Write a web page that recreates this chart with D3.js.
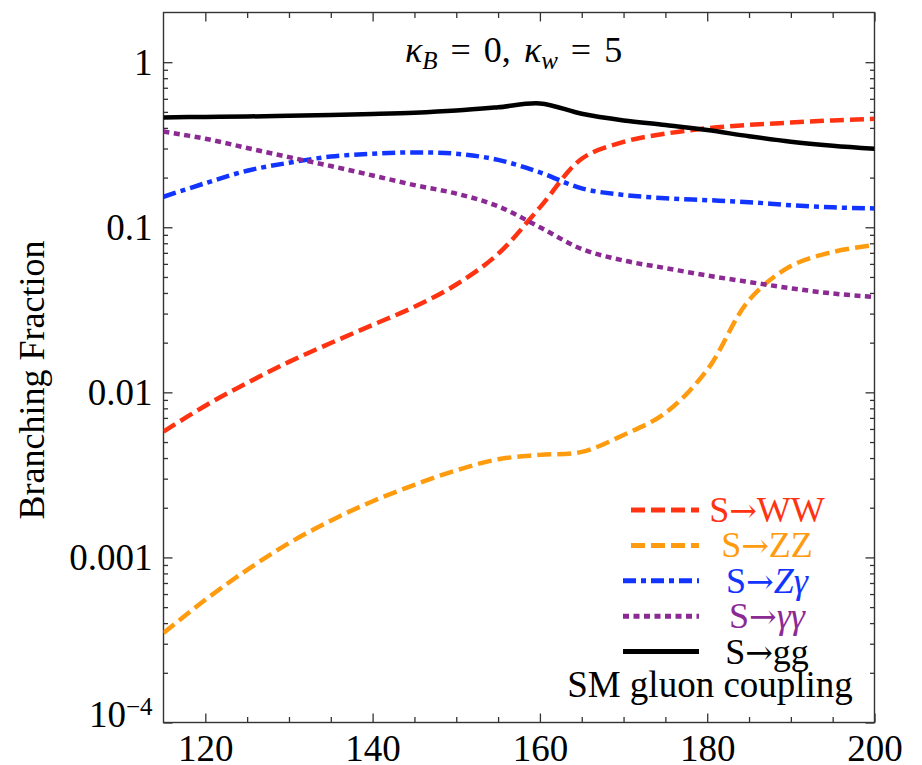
<!DOCTYPE html>
<html>
<head>
<meta charset="utf-8">
<script src="https://cdn.jsdelivr.net/npm/d3@7"></script>
<style>
  body { margin: 0; background: #fff; }
  svg { display: block; }
</style>
</head>
<body>
<div id="chart"></div>
<script>
// mass points (GeV)
const mass = [115,120,125,130,135,140,145,150,155,160,165,170,175,180,185,190,195,200];

// branching fractions
const brWW  = [0.00578,0.0083,0.0114,0.0153,0.0199,0.0256,0.0330,0.0450,0.0690,0.132,0.260,0.329,0.369,0.398,0.417,0.431,0.444,0.454];
const brZZ  = [0.000348,0.000554,0.000841,0.00122,0.00167,0.00219,0.00275,0.00337,0.00393,0.00418,0.00436,0.00552,0.0075,0.0137,0.0362,0.0582,0.0708,0.078];
const brZga = [0.153,0.185,0.220,0.246,0.268,0.279,0.284,0.279,0.256,0.215,0.172,0.157,0.150,0.146,0.142,0.136,0.132,0.130];
const brGaGa= [0.380,0.344,0.302,0.266,0.235,0.206,0.180,0.160,0.134,0.100,0.0738,0.0629,0.0566,0.0510,0.0466,0.0427,0.0397,0.0378];
const brGG  = [0.463,0.466,0.469,0.473,0.478,0.485,0.494,0.509,0.533,0.562,0.487,0.444,0.416,0.388,0.356,0.330,0.312,0.299];

// axis ticks
const xMajor = [120,140,160,180,200];
const xMinor = [125,130,135,145,150,155,165,170,175,185,190,195];
const yMajor = [1e-4,1e-3,1e-2,1e-1,1];
const yLabels = ["10-4","0.001","0.01","0.1","1"];

// legend: [initial, final state, final state italic?]
const seriesNames = [["S","WW",false],["S","ZZ",false],["S","Z\u03b3",true],["S","\u03b3\u03b3",true],["S","gg",false]];
const seriesData  = [brWW, brZZ, brZga, brGaGa, brGG];
const colors      = ["#ff3312","#ff9b0f","#1234ff","#8c2a94","#000000"];
const dashes      = ["14,6","14,6","13,5,5,5","6,4.5",null];

const serif = "'Liberation Serif','Times New Roman',Times,serif";

const margin = { top: 12.5, left: 163.5 },
      width  = 711,
      height = 710;

const svg = d3.select("#chart")
  .append("svg")
    .attr("width", 922)
    .attr("height", 765)
  .append("g")
    .attr("transform", `translate(${margin.left},${margin.top})`);

const x = d3.scaleLinear().domain([115,200]).range([0,width]);
const y = d3.scaleLog().domain([1e-4,2]).range([height,0]);

// minor y ticks 2..9 x 10^k
const yMinor = [];
for (let k = -4; k <= 0; k++) for (let m = 2; m <= 9; m++) {
  const v = m * Math.pow(10,k);
  if (v < 2) yMinor.push(v);
}

svg.append("defs").append("clipPath").attr("id","clip")
  .append("rect").attr("width",width).attr("height",height);

const axisColor = "#333";
function styleAxis(g) {
  g.select(".domain").remove();
  g.selectAll("line").attr("stroke",axisColor).attr("stroke-width",1.3);
  g.selectAll("text").attr("fill","#000").attr("font-size",37);
}

// bottom
svg.append("g").attr("transform",`translate(0,${height})`)
  .call(d3.axisBottom(x).tickValues(xMajor).tickSize(-9).tickPadding(12).tickFormat(d3.format("d")))
  .call(styleAxis);
svg.append("g").attr("transform",`translate(0,${height})`)
  .call(d3.axisBottom(x).tickValues(xMinor).tickSize(-5.5).tickFormat(""))
  .call(styleAxis);
// top
svg.append("g")
  .call(d3.axisTop(x).tickValues(xMajor).tickSize(-9).tickFormat(""))
  .call(styleAxis);
svg.append("g")
  .call(d3.axisTop(x).tickValues(xMinor).tickSize(-5.5).tickFormat(""))
  .call(styleAxis);
// left
svg.append("g")
  .call(d3.axisLeft(y).tickValues(yMajor).tickSize(-9).tickPadding(11)
    .tickFormat((d,i) => yLabels[i]))
  .call(styleAxis)
  .selectAll(".tick text")
  .each(function(d) {
    if (d === 1e-4) {
      const t = d3.select(this).text("");
      t.append("tspan").text("10");
      t.append("tspan").attr("dy","-0.45em").attr("font-size",25).text("\u22124");
      t.attr("dy","0.1em");
    }
  });
svg.append("g")
  .call(d3.axisLeft(y).tickValues(yMinor).tickSize(-4.5).tickFormat(""))
  .call(styleAxis);
// right
svg.append("g").attr("transform",`translate(${width},0)`)
  .call(d3.axisRight(y).tickValues(yMajor).tickSize(-9).tickFormat(""))
  .call(styleAxis);
svg.append("g").attr("transform",`translate(${width},0)`)
  .call(d3.axisRight(y).tickValues(yMinor).tickSize(-4.5).tickFormat(""))
  .call(styleAxis);

// frame
svg.append("rect")
  .attr("width",width).attr("height",height)
  .attr("fill","none").attr("stroke",axisColor).attr("stroke-width",1.4);

// axis label
svg.append("text")
  .attr("transform","rotate(-90)")
  .attr("x",-(380 - margin.top)).attr("y",44 - margin.left)
  .attr("text-anchor","middle")
  .attr("font-size",36)
  .text("Branching Fraction");

// curves
const line = d3.line()
  .curve(d3.curveCatmullRom.alpha(0.5))
  .x(d => x(d[0]))
  .y(d => y(d[1]));

const plot = svg.append("g").attr("clip-path","url(#clip)");
seriesData.forEach((vals,i) => {
  plot.append("path")
    .datum(mass.map((m,j) => [m, vals[j]]))
    .attr("fill","none")
    .attr("stroke",colors[i])
    .attr("stroke-width",4.5)
    .attr("stroke-dasharray",dashes[i])
    .attr("d",line);
});

// title
const title = svg.append("text")
  .attr("x",405 - margin.left).attr("y",62 - margin.top)
  .attr("font-size",36)
  .attr("word-spacing",4);
title.append("tspan").attr("font-style","italic").text("\u03ba");
title.append("tspan").attr("font-style","italic").attr("font-size",25).attr("dy","7").text("B");
title.append("tspan").attr("dy","-7").text(" = 0, ");
title.append("tspan").attr("font-style","italic").text("\u03ba");
title.append("tspan").attr("font-style","italic").attr("font-size",25).attr("dy","7").text("w");
title.append("tspan").attr("dy","-7").text(" = 5");

// legend
const legend = svg.append("g").attr("transform",`translate(${-margin.left},${-margin.top})`);
seriesNames.forEach((name,i) => {
  const yy = 510 + i*35.4;
  legend.append("line")
    .attr("x1",i < 2 ? 631 : 623).attr("x2",699)
    .attr("y1",yy).attr("y2",yy)
    .attr("stroke",colors[i]).attr("stroke-width",5)
    .attr("stroke-dasharray",dashes[i]);
  const t = legend.append("text")
    .attr("x",767).attr("y",yy + 12)
    .attr("text-anchor","middle")
    .attr("fill",colors[i])
    .attr("font-size",36);
  t.append("tspan").text(name[0]);
  t.append("tspan").attr("class","arrow").attr("font-size",33).text("\u2192");
  t.append("tspan").attr("font-style",name[2] ? "italic" : null).text(name[1]);
});
legend.append("text")
  .attr("x",710).attr("y",697)
  .attr("text-anchor","middle")
  .attr("font-size",37)
  .text("SM gluon coupling");

d3.selectAll("svg text").attr("font-family",serif);
d3.selectAll("tspan.arrow").attr("font-family","'DejaVu Serif',serif");
</script>
</body>
</html>
